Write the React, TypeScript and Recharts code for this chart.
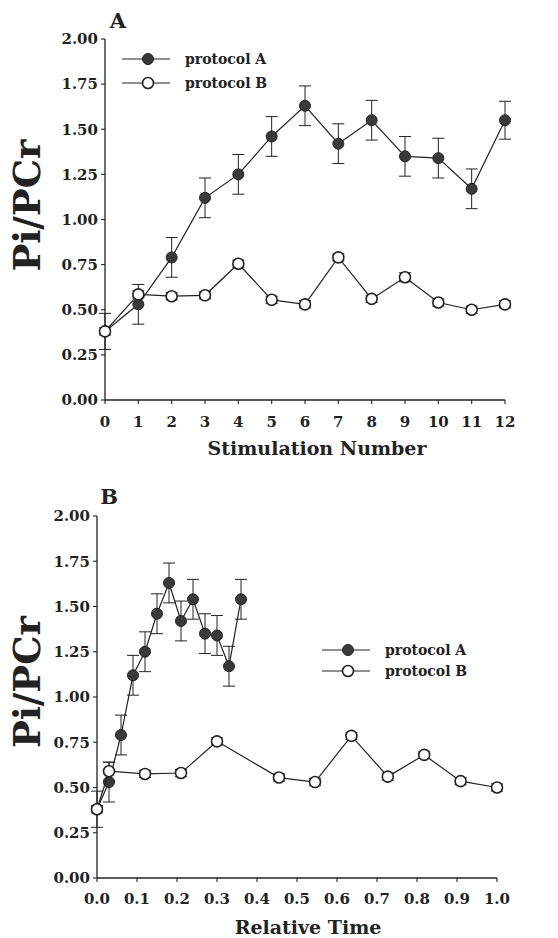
import React from 'react';
import { ScatterChart, Scatter, XAxis, YAxis, ErrorBar, Legend, Label } from 'recharts';

// Panel A: Pi/PCr by stimulation number
const stimulationNumber = [0, 1, 2, 3, 4, 5, 6, 7, 8, 9, 10, 11, 12];
const stimAValues = [0.38, 0.53, 0.79, 1.12, 1.25, 1.46, 1.63, 1.42, 1.55, 1.35, 1.34, 1.17, 1.55];
const stimAErrors = [0.1, 0.11, 0.11, 0.11, 0.11, 0.11, 0.11, 0.11, 0.11, 0.11, 0.11, 0.11, 0.105];
const stimBValues = [0.38, 0.585, 0.575, 0.58, 0.755, 0.555, 0.53, 0.79, 0.56, 0.68, 0.54, 0.5, 0.53];
const stimBErrors = [0.02, 0.02, 0.02, 0.02, 0.02, 0.02, 0.02, 0.02, 0.02, 0.025, 0.02, 0.02, 0.02];

// Panel B: Pi/PCr by relative time
const timeA = [0, 0.03, 0.06, 0.09, 0.12, 0.15, 0.18, 0.21, 0.24, 0.27, 0.3, 0.33, 0.36];
const timeAValues = [0.38, 0.53, 0.79, 1.12, 1.25, 1.46, 1.63, 1.42, 1.54, 1.35, 1.34, 1.17, 1.54];
const timeAErrors = [0.1, 0.11, 0.11, 0.11, 0.11, 0.11, 0.11, 0.11, 0.11, 0.11, 0.11, 0.11, 0.11];
const timeB = [0, 0.03, 0.12, 0.21, 0.3, 0.455, 0.545, 0.636, 0.727, 0.818, 0.909, 1.0];
const timeBValues = [0.38, 0.59, 0.575, 0.58, 0.755, 0.555, 0.53, 0.785, 0.56, 0.68, 0.535, 0.5];
const timeBErrors = [0.02, 0.05, 0.02, 0.02, 0.02, 0.02, 0.02, 0.02, 0.02, 0.02, 0.02, 0.02];

const yTicks = [0, 0.25, 0.5, 0.75, 1, 1.25, 1.5, 1.75, 2];
const stimTicks = [0, 1, 2, 3, 4, 5, 6, 7, 8, 9, 10, 11, 12];
const timeTicks = [0, 0.1, 0.2, 0.3, 0.4, 0.5, 0.6, 0.7, 0.8, 0.9, 1.0];

const seriesNames = ['protocol A', 'protocol B'];

const FONT = 'DejaVu Serif';
const INK = '#222';

const toRows = (xs: number[], ys: number[], es: number[]) =>
  xs.map((x, i) => ({ x, y: ys[i], err: es[i] }));

const filledDot = (p: any) => (
  <circle cx={p.cx} cy={p.cy} r={5.5} fill="#3a3a3a" stroke={INK} strokeWidth={1} />
);
const openDot = (p: any) => (
  <circle cx={p.cx} cy={p.cy} r={5.5} fill="#fff" stroke={INK} strokeWidth={1.6} />
);

const tickStyle = { fontFamily: FONT, fontWeight: 'bold', fontSize: 15, fill: INK };

const LegendRows = ({ gap }: { gap: number }) => (
  <svg width={200} height={gap + 16}>
    {seriesNames.map((name, i) => {
      const cy = 8 + i * gap;
      return (
        <g key={name}>
          <line x1={5} x2={53} y1={cy} y2={cy} stroke={INK} strokeWidth={1.2} />
          {i === 0 ? filledDot({ cx: 31, cy }) : openDot({ cx: 31, cy })}
          <text x={68} y={cy + 5} fontFamily={FONT} fontWeight="bold" fontSize={14} fill={INK}>
            {name}
          </text>
        </g>
      );
    })}
  </svg>
);

const yTitle = (dy: number) => (props: any) => {
  const vb = props.viewBox;
  const cy = vb.y + vb.height / 2 + dy;
  return (
    <text
      x={27}
      y={cy}
      transform={`rotate(-90, 27, ${cy})`}
      textAnchor="middle"
      dominantBaseline="central"
      fontFamily={FONT}
      fontWeight="bold"
      fontSize={37}
      fill={INK}
    >
      Pi/PCr
    </text>
  );
};

const panelLetter = (letter: string, x: number, y: number) => () => (
  <text x={x} y={y} textAnchor="middle" fontFamily={FONT} fontWeight="bold" fontSize={21} fill={INK}>
    {letter}
  </text>
);

const xTitle = (text: string, dx: number, baseline: number) => (props: any) => {
  const vb = props.viewBox;
  return (
    <text
      x={vb.x + vb.width / 2 + dx}
      y={baseline}
      textAnchor="middle"
      fontFamily={FONT}
      fontWeight="bold"
      fontSize={19}
      fill={INK}
    >
      {text}
    </text>
  );
};

const axisProps = {
  axisLine: { stroke: INK, strokeWidth: 1.3 },
  tickLine: { stroke: INK, strokeWidth: 1.1 },
  tickSize: 4,
  tick: tickStyle,
};

export default function App() {
  const stimA = toRows(stimulationNumber, stimAValues, stimAErrors);
  const stimB = toRows(stimulationNumber, stimBValues, stimBErrors);
  const relA = toRows(timeA, timeAValues, timeAErrors);
  const relB = toRows(timeB, timeBValues, timeBErrors);

  return (
    <div style={{ position: 'absolute', left: 0, top: 0, width: 558, height: 938, background: '#fff' }}>
      <div style={{ position: 'absolute', left: 0, top: 0 }}>
        <ScatterChart width={558} height={470} margin={{ top: 39, right: 53, bottom: 40, left: 45 }}>
          <XAxis
            type="number"
            dataKey="x"
            domain={[0, 12]}
            ticks={stimTicks}
            height={30}
            tickMargin={12}
            {...axisProps}
          >
            <Label content={xTitle('Stimulation Number', 12, 455)} />
          </XAxis>
          <YAxis
            type="number"
            dataKey="y"
            domain={[0, 2]}
            ticks={yTicks}
            width={60}
            tickMargin={3}
            tickFormatter={(v: number) => v.toFixed(2)}
            {...axisProps}
          >
            <Label content={yTitle(-14)} />
            <Label content={panelLetter('A', 118, 28)} />
          </YAxis>
          <Legend
            layout="horizontal"
            verticalAlign="middle"
            align="center"
            content={() => <LegendRows gap={24} />}
            wrapperStyle={{ position: 'absolute', left: 117, top: 51, width: 200 }}
          />
          <Scatter
            name={seriesNames[0]}
            data={stimA}
            line={{ stroke: INK, strokeWidth: 1.2 }}
            shape={filledDot}
            isAnimationActive={false}
          >
            <ErrorBar dataKey="err" direction="y" width={6} stroke={INK} strokeWidth={1} />
          </Scatter>
          <Scatter
            name={seriesNames[1]}
            data={stimB}
            line={{ stroke: INK, strokeWidth: 1.2 }}
            shape={openDot}
            isAnimationActive={false}
          >
            <ErrorBar dataKey="err" direction="y" width={6} stroke={INK} strokeWidth={1} />
          </Scatter>
        </ScatterChart>
      </div>
      <div style={{ position: 'absolute', left: 0, top: 470 }}>
        <ScatterChart width={558} height={468} margin={{ top: 46, right: 61, bottom: 30, left: 37 }}>
          <XAxis
            type="number"
            dataKey="x"
            domain={[0, 1]}
            ticks={timeTicks}
            height={30}
            tickMargin={11}
            tickFormatter={(v: number) => v.toFixed(1)}
            {...axisProps}
          >
            <Label content={xTitle('Relative Time', 11, 464)} />
          </XAxis>
          <YAxis
            type="number"
            dataKey="y"
            domain={[0, 2]}
            ticks={yTicks}
            width={60}
            tickMargin={3}
            tickFormatter={(v: number) => v.toFixed(2)}
            {...axisProps}
          >
            <Label content={yTitle(-15)} />
            <Label content={panelLetter('B', 109, 34)} />
          </YAxis>
          <Legend
            layout="horizontal"
            verticalAlign="middle"
            align="center"
            content={() => <LegendRows gap={21} />}
            wrapperStyle={{ position: 'absolute', left: 317, top: 172, width: 200 }}
          />
          <Scatter
            name={seriesNames[0]}
            data={relA}
            line={{ stroke: INK, strokeWidth: 1.2 }}
            shape={filledDot}
            isAnimationActive={false}
          >
            <ErrorBar dataKey="err" direction="y" width={6} stroke={INK} strokeWidth={1} />
          </Scatter>
          <Scatter
            name={seriesNames[1]}
            data={relB}
            line={{ stroke: INK, strokeWidth: 1.2 }}
            shape={openDot}
            isAnimationActive={false}
          >
            <ErrorBar dataKey="err" direction="y" width={6} stroke={INK} strokeWidth={1} />
          </Scatter>
        </ScatterChart>
      </div>
    </div>
  );
}
